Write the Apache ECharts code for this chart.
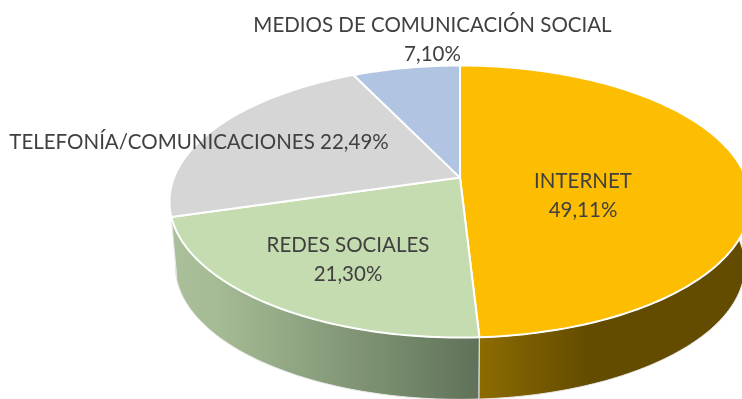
<!DOCTYPE html>
<html><head><meta charset="utf-8">
<style>html,body{margin:0;padding:0;background:#fff;overflow:hidden}#c{width:742px;height:399px}</style>
<script src="https://cdn.jsdelivr.net/npm/echarts@6/dist/echarts.min.js"></script>
</head><body><div id="c"></div>
<script>
const categories = ['INTERNET', 'REDES SOCIALES', 'TELEFONÍA/COMUNICACIONES', 'MEDIOS DE COMUNICACIÓN SOCIAL'];
const values = [49.11, 21.30, 22.49, 7.10];
const labelSeparators = ['\n', '\n', ' ', '\n'];

const topColors = ['#FDBD00', '#C4DCAF', '#D6D6D6', '#B1C4E2'];
const wallStops = [
  [[0, '#8C6B00'], [0.42, '#634B00'], [1, '#634B00']],
  [[0, '#AABF9A'], [0.15, '#A5BB94'], [1, '#5F7259']],
  [[0, '#A0A0A0'], [1, '#808080']],
  [[0, '#8090A8'], [1, '#6A7A90']]
];
const wallSpans = [[480, 742], [172, 480], [170, 360], [357, 460]];
const labelAnchors = [[583, 196], [348, 260], [199, 142], [432.5, 40]];

// perspective view of the pie disc
const view = {cx: 460, cy: 177.6, a: 286, b: 131.8, k: 0.176, lowerScale: 0.98, drop: 65};
const total = values.reduce((s, v) => s + v, 0);
const starts = values.map((_, i) => values.slice(0, i).reduce((s, v) => s + v, 0));

function rim(theta, scale, drop) {
  const u = Math.sin(theta), v = -Math.cos(theta), w = 1 - view.k * v;
  return [view.cx + scale * view.a * u / w, view.cy + scale * view.b * v / w + drop];
}
function arc(i, scale, drop) {
  const t0 = starts[i] / total * 2 * Math.PI, t1 = (starts[i] + values[i]) / total * 2 * Math.PI;
  const n = Math.max(8, Math.ceil(values[i] * 3)), pts = [];
  for (let j = 0; j <= n; j++) pts.push(rim(t0 + (t1 - t0) * j / n, scale, drop));
  return pts;
}
function pct(i) { return categories[i] + labelSeparators[i] + values[i].toFixed(2).replace('.', ',') + '%'; }

function renderWall(params, api) {
  const i = api.value(0);
  const pts = arc(i, 1, 0).concat(arc(i, view.lowerScale, view.drop).reverse());
  return {
    type: 'polygon', silent: true,
    shape: {points: pts},
    style: {
      fill: new echarts.graphic.LinearGradient(wallSpans[i][0], 0, wallSpans[i][1], 0,
        wallStops[i].map(s => ({offset: s[0], color: s[1]})), true),
      stroke: '#E8E8E8', lineWidth: 1
    }
  };
}
function renderTop(params, api) {
  const i = api.value(0);
  const pts = [[view.cx, view.cy]].concat(arc(i, 1, 0));
  return {
    type: 'polygon', silent: true,
    shape: {points: pts},
    style: {fill: topColors[i], stroke: '#FFFFFF', lineWidth: 2, lineJoin: 'round'}
  };
}
function renderLabel(params, api) {
  const i = api.value(0);
  return {
    type: 'text', silent: true,
    style: {
      x: labelAnchors[i][0], y: labelAnchors[i][1], text: pct(i),
      fill: '#404040', font: '20.5px Lato', lineHeight: 29,
      align: 'center', verticalAlign: 'middle'
    }
  };
}
const idx = values.map((_, i) => [i]);
const chart = echarts.init(document.getElementById('c'), null, {renderer: 'canvas', width: 742, height: 399});
chart.setOption({
  animation: false,
  backgroundColor: '#FFFFFF',
  series: [
    {type: 'custom', coordinateSystem: 'none', z: 1, silent: true, clip: false, renderItem: renderWall, data: idx.slice().reverse()},
    {type: 'custom', coordinateSystem: 'none', z: 2, silent: true, clip: false, renderItem: renderTop, data: idx},
    {type: 'custom', coordinateSystem: 'none', z: 3, silent: true, clip: false, renderItem: renderLabel, data: idx}
  ]
});
</script></body></html>
